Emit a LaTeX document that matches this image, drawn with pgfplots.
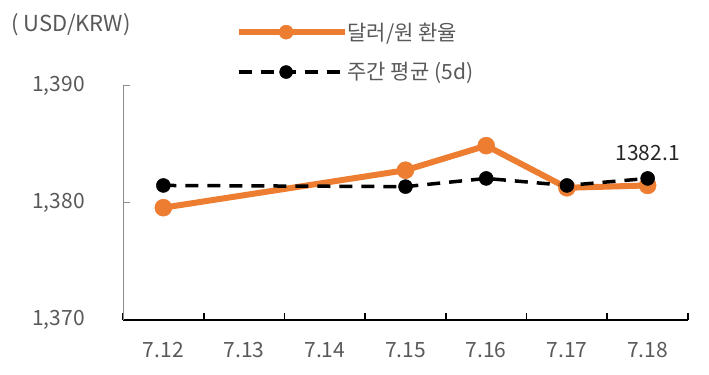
\documentclass[border=0pt]{standalone}
\usepackage{fontspec}
\setmainfont{Noto Sans CJK KR}
\usepackage{pgfplots}
\pgfplotsset{compat=1.18}
\definecolor{korange}{HTML}{ED7D31}
\definecolor{txtgray}{HTML}{595959}
\definecolor{axgray}{HTML}{8C8C8C}
\begin{document}
\begin{tikzpicture}
\useasboundingbox (0bp,0bp) rectangle (709bp,375bp);
\node[anchor=west, text=txtgray, font=\fontsize{22bp}{26bp}\selectfont, inner sep=0pt] at (11bp,350bp) {( USD/KRW)};
\begin{axis}[
  at={(123bp,55bp)}, anchor=south west, scale only axis,
  width=565bp, height=234bp,
  xmin=-0.5, xmax=6.5, ymin=1370, ymax=1390,
  axis x line=bottom, axis y line=left,
  x axis line style={-, black, line width=2bp},
  y axis line style={-, axgray, line width=1bp},
  xtick={-0.5,0.5,1.5,2.5,3.5,4.5,5.5,6.5}, xticklabels={},
  major tick length=7bp, tick align=inside,
  xtick style={black, line width=1.6bp},
  ytick={1370,1380,1390}, yticklabels={{1,370},{1,380},{1,390}},
  ytick style={axgray, line width=1bp},
  extra x ticks={0,1,2,3,4,5,6},
  extra x tick labels={7.12,7.13,7.14,7.15,7.16,7.17,7.18},
  extra x tick style={major tick length=0pt, xticklabel style={inner sep=0pt, anchor=north, yshift=-22bp}},
  tick label style={font=\fontsize{21bp}{25bp}\selectfont, text=txtgray},
  yticklabel style={inner sep=0pt, anchor=east, xshift=-38bp},
  /pgf/number format/assume math mode=true,
  legend style={at={(0.199,1.145)}, anchor=west, draw=none, fill=none, inner sep=0pt,
    row sep=21bp, font=\fontsize{21bp}{25bp}\selectfont, text=txtgray,
    nodes={inner sep=0pt}},
  legend cell align=left,
  clip=false,
]
\addplot[korange, line width=6bp, mark=*, mark size=8.5bp, mark options={solid, line width=0.5bp},
  legend image code/.code={\draw[mark repeat=2,mark phase=2, mark size=7bp] plot coordinates {(0bp,0bp) (47.5bp,0bp) (95bp,0bp)};\path (0bp,0bp) -- (106bp,0bp);}]
  coordinates {(0,1379.6) (3,1382.8) (4,1384.9) (5,1381.3) (6,1381.5)};
\addlegendentry{달러/원 환율}
\addplot[black, line width=3.5bp, dash pattern=on 13bp off 9bp, mark=*, mark size=7bp, mark options={solid, line width=0.5bp},
  legend image code/.code={\draw[mark repeat=2,mark phase=2, mark size=6.5bp] plot coordinates {(0bp,0bp) (47.5bp,0bp) (95bp,0bp)};\path (0bp,0bp) -- (106bp,0bp);}]
  coordinates {(0,1381.5) (3,1381.4) (4,1382.1) (5,1381.5) (6,1382.1)};
\addlegendentry{주간 평균 (5d)}
\node[font=\fontsize{21bp}{25bp}\selectfont, text=black!85, inner sep=0pt] at (axis cs:6,1382.1) [yshift=25bp] {1382.1};
\end{axis}
\end{tikzpicture}
\end{document}
